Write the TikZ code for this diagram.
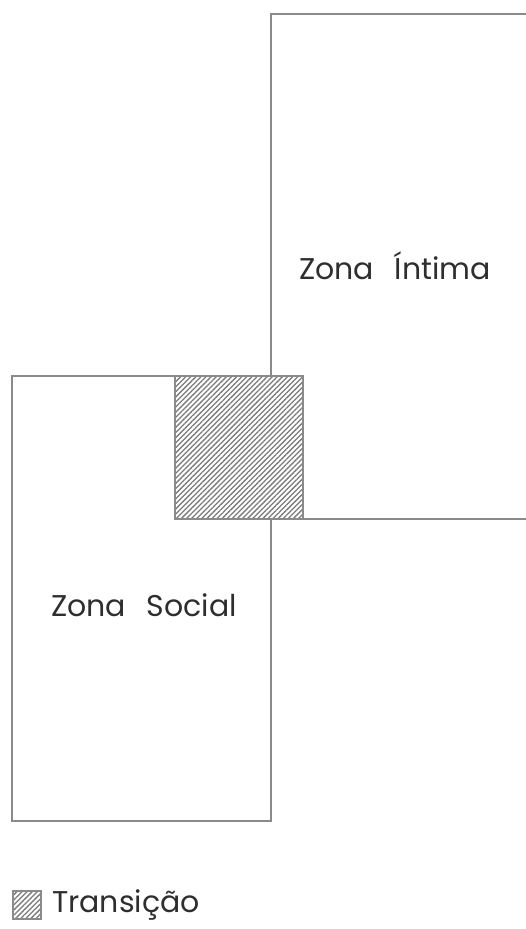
\documentclass[tikz,border=0pt]{standalone}
\usepackage{fontspec}
\setmainfont[WordSpace=2.6]{Poppins}
\usetikzlibrary{patterns.meta}
\definecolor{planline}{HTML}{8A8A8A}
\definecolor{hatchline}{HTML}{7A7A7A}
\definecolor{plantext}{HTML}{2E2E2E}
\begin{document}
\begin{tikzpicture}[x=1pt,y=-1pt,
  wall/.style={draw=planline,line width=1.5pt},
  hatch/.style={draw=planline,line width=1.3pt,pattern={Lines[angle=45,distance=3.6pt,line width=1.3pt]},pattern color=hatchline},
  zonelabel/.style={font=\fontsize{30}{36}\selectfont,text=plantext,inner sep=0pt}
]
\useasboundingbox (0,0) rectangle (526,929);
% zona intima
\draw[wall] (526,14) -- (271,14) -- (271,376);
\draw[wall] (303,519) -- (526,519);
% zona social
\draw[wall] (175,376) -- (12,376) -- (12,821) -- (271,821) -- (271,519);
% transicao
\draw[hatch] (175,376) rectangle (303,519);
\node[zonelabel] (intima) at (395,266) {Zona Íntima};
\node[zonelabel] (social) at (144,605) {Zona Social};
% legenda
\draw[hatch] (13,891) rectangle (41,919);
\node[zonelabel,anchor=west] (transicao) at (52,905) {Transição};
\end{tikzpicture}
\end{document}
